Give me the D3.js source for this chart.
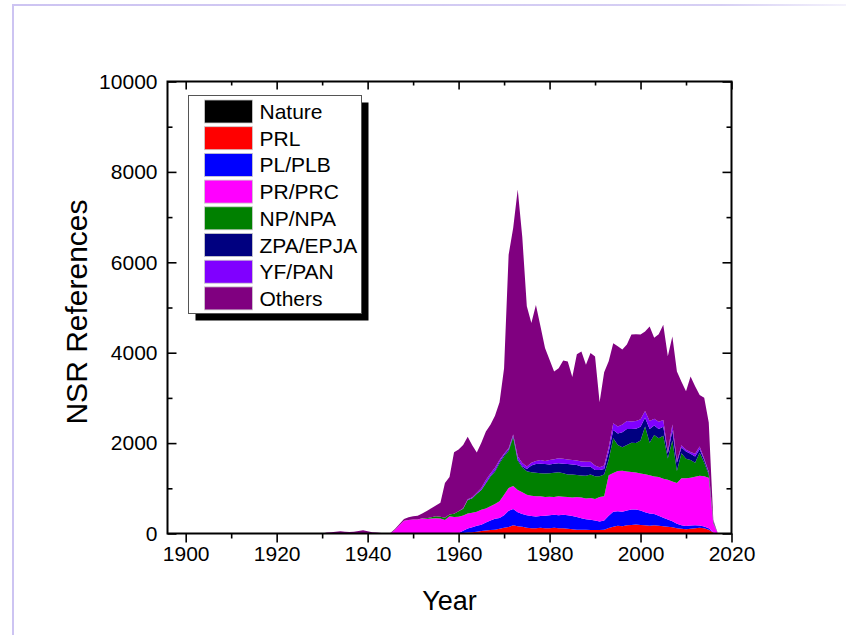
<!DOCTYPE html>
<html>
<head>
<meta charset="utf-8">
<script src="https://cdn.jsdelivr.net/npm/d3@7/dist/d3.min.js"></script>
<style>
  html, body { margin: 0; padding: 0; background: #ffffff; }
  svg { display: block; font-family: "Liberation Sans", Arial, sans-serif; }
</style>
</head>
<body>
<svg id="chart" width="846" height="635"></svg>
<script>
// Publication years, 1930–2017
const years = [
  1930,1931,1932,1933,1934,1935,1936,1937,1938,1939,
  1940,1941,1942,1943,1944,1945,1946,1947,1948,1949,
  1950,1951,1952,1953,1954,1955,1956,1957,1958,1959,
  1960,1961,1962,1963,1964,1965,1966,1967,1968,1969,
  1970,1971,1972,1973,1974,1975,1976,1977,1978,1979,
  1980,1981,1982,1983,1984,1985,1986,1987,1988,1989,
  1990,1991,1992,1993,1994,1995,1996,1997,1998,1999,
  2000,2001,2002,2003,2004,2005,2006,2007,2008,2009,
  2010,2011,2012,2013,2014,2015,2016,2017
];

// Journal groups, bottom of the stack first
const journals = ["Nature", "PRL", "PL/PLB", "PR/PRC", "NP/NPA", "ZPA/EPJA", "YF/PAN", "Others"];
const colors   = ["#000000", "#ff0000", "#0000ff", "#ff00ff", "#008000", "#000080", "#8000ff", "#800080"];

// References per year for each group (same order as years)
const nature = [
  0,0,0,0,0,0,0,0,0,0, 0,0,0,0,0,0,0,0,0,0, 0,0,0,0,0,0,0,0,0,0, 0,
  0,0,0,0,5,5,5,5,5,5,
  5,10,10,10,5,5,5,5,5,5,
  5,5,5,5,5,5,5,5,5,5,
  5,5,10,10,10,10,10,10,10,10,
  10,10,10,10,10,10,10,5,5,5,
  5,5,5,5,5,0,0
];
const prl = [
  0,0,0,0,0,0,0,0,0,0, 0,0,0,0,0,0,0,0,0,0, 0,0,0,0,0,0,0,0,10,15, 10,
  10,20,30,40,50,60,70,80,100,120,
  140,170,150,140,120,110,110,120,110,110,
  120,110,110,100,90,80,80,80,70,70,
  70,80,110,140,160,150,170,180,190,180,
  170,160,170,160,150,140,130,110,100,90,
  100,110,120,110,80,20,0
];
const plb = [
  0,0,0,0,0,0,0,0,0,0, 0,0,0,0,0,0,0,0,0,0, 0,0,0,0,0,0,0,0,0,0, 0,
  50,90,110,130,140,180,210,240,240,280,
  360,360,310,280,280,270,260,260,280,290,
  290,290,300,300,290,280,250,230,230,210,
  190,200,270,330,320,320,330,340,330,320,
  290,270,250,220,190,160,130,100,80,70,
  70,70,50,40,30,10,0
];
const prc = [
  0,0,0,0,0,0,0,0,0,0, 0,0,0,0,0,0,
  80,180,280,300,310,310,330,320,330,340,330,300,370,350,360,
  340,330,320,310,330,310,320,330,370,450,
  500,510,490,480,450,450,450,440,410,410,
  390,420,400,400,410,440,460,460,480,480,
  540,540,900,860,890,910,860,830,820,820,
  840,850,830,860,860,880,880,900,1040,1060,
  1060,1070,1100,1110,1120,200,0
];
const npa = [
  0,0,0,0,0,0,0,0,0,0, 0,0,0,0,0,0,
  0,0,0,0,0,0,10,20,30,40,40,50,40,70,120,
  150,300,320,400,440,550,650,710,840,850,
  820,1080,650,550,520,520,520,510,520,520,
  540,530,520,500,510,490,490,500,520,500,
  460,480,340,770,580,520,590,650,650,730,
  1060,720,920,860,950,470,910,270,550,430,
  390,310,510,300,70,30,0
];
const epja = [
  0,0,0,0,0,0,0,0,0,0, 0,0,0,0,0,0,0,0,0,0, 0,0,0,0,0,0,0,0,0,0, 0,
  0,0,0,0,0,20,20,30,30,30,
  30,30,30,30,50,150,190,210,210,190,
  200,200,210,230,220,220,200,200,170,140,
  140,120,180,180,250,330,350,300,320,300,
  190,300,210,200,200,110,220,180,130,160,
  140,140,80,60,40,10,0
];
const pan = [
  0,0,0,0,0,0,0,0,0,0, 0,0,0,0,0,0,0,0,0,0, 0,0,0,0,0,0,0,0,0,0, 0,
  10,20,20,20,40,60,50,60,40,30,
  30,30,70,70,60,60,70,80,70,100,
  100,110,110,100,100,100,110,110,110,100,
  60,80,100,150,160,170,180,170,170,170,
  150,180,150,160,150,40,130,40,50,40,
  40,60,60,30,20,5,0
];
const others = [
  0,20,30,40,50,40,35,40,55,70,50,30,20,10,5,10,
  20,30,40,60,70,80,100,160,200,240,310,770,830,1360,1370,
  1400,1380,1150,890,1000,1070,1080,1150,1280,1890,
  4280,4570,5900,5000,3540,3090,3450,2960,2500,2220,
  1940,1990,2170,2170,1840,2350,2430,2150,2410,2410,
  1440,2060,1900,1770,1770,1660,1690,1920,1920,1870,
  1760,2090,1790,1940,2110,2110,1950,1980,1400,1290,
  1670,1490,1140,1350,1090,25,0
];

const xTicks = [1900, 1920, 1940, 1960, 1980, 2000, 2020];
const xMinor = [1910, 1930, 1950, 1970, 1990, 2010];
const yTicks = [0, 2000, 4000, 6000, 8000, 10000];
const yMinor = [1000, 3000, 5000, 7000, 9000];

const seriesValues = [nature, prl, plb, prc, npa, epja, pan, others];
const table = years.map((yr, i) => {
  const row = { year: yr };
  journals.forEach((k, j) => { row[k] = seriesValues[j][i]; });
  return row;
});

const svg = d3.select("#chart");

// Page frame
const defs = svg.append("defs");
const grad = defs.append("linearGradient").attr("id", "frameFade")
  .attr("x1", "0%").attr("x2", "100%").attr("y1", "0%").attr("y2", "0%");
grad.append("stop").attr("offset", "0%").attr("stop-color", "#cdc4f2");
grad.append("stop").attr("offset", "85%").attr("stop-color", "#d6cff4");
grad.append("stop").attr("offset", "100%").attr("stop-color", "#f4f2fc");
svg.append("rect").attr("x", 12).attr("y", 4).attr("width", 834).attr("height", 2)
  .attr("fill", "url(#frameFade)");
svg.append("rect").attr("x", 12).attr("y", 4).attr("width", 2).attr("height", 631)
  .attr("fill", "#cdc4f2");

const plot = { left: 167.5, right: 731.5, top: 81.5, bottom: 533.5 };
const x = d3.scaleLinear().domain([1896, 2020]).range([plot.left, plot.right]);
const y = d3.scaleLinear().domain([0, 10000]).range([plot.bottom, plot.top]);

// Stacked areas
const stack = d3.stack().keys(journals).order(d3.stackOrderNone).offset(d3.stackOffsetNone);
const layers = stack(table);
const area = d3.area()
  .x(d => x(d.data.year))
  .y0(d => y(d[0]))
  .y1(d => y(d[1]));

svg.append("g").selectAll("path")
  .data(layers)
  .join("path")
  .attr("d", area)
  .attr("fill", (d, i) => colors[i]);

// Axes
const axisFont = 21;
function styleAxis(g) {
  g.selectAll(".domain").remove();
  g.selectAll(".tick line").attr("stroke", "#000").attr("stroke-width", 1.6);
  g.selectAll(".tick text").attr("fill", "#000").attr("font-size", axisFont)
    .attr("font-family", "Liberation Sans, Arial, sans-serif");
}

// bottom: ticks outward
svg.append("g").attr("transform", `translate(0,${plot.bottom})`)
  .call(d3.axisBottom(x).tickValues(xTicks).tickFormat(d3.format("d")).tickSize(9).tickPadding(4))
  .call(styleAxis);
svg.append("g").attr("transform", `translate(0,${plot.bottom})`)
  .call(d3.axisBottom(x).tickValues(xMinor).tickFormat("").tickSize(5))
  .call(styleAxis);
// top: ticks inward
svg.append("g").attr("transform", `translate(0,${plot.top})`)
  .call(d3.axisBottom(x).tickValues(xTicks).tickFormat("").tickSize(8))
  .call(styleAxis);
svg.append("g").attr("transform", `translate(0,${plot.top})`)
  .call(d3.axisBottom(x).tickValues(xMinor).tickFormat("").tickSize(4))
  .call(styleAxis);
// left: ticks inward, labels outside
svg.append("g").attr("transform", `translate(${plot.left},0)`)
  .call(d3.axisRight(y).tickValues(yTicks).tickFormat("").tickSize(9))
  .call(styleAxis);
svg.append("g").attr("transform", `translate(${plot.left},0)`)
  .call(d3.axisRight(y).tickValues(yMinor).tickFormat("").tickSize(5))
  .call(styleAxis);
svg.append("g").attr("transform", `translate(${plot.left},0)`)
  .call(d3.axisLeft(y).tickValues(yTicks).tickFormat(d3.format("d")).tickSize(0).tickPadding(10))
  .call(styleAxis);
// right: ticks inward
svg.append("g").attr("transform", `translate(${plot.right},0)`)
  .call(d3.axisLeft(y).tickValues(yTicks).tickFormat("").tickSize(9))
  .call(styleAxis);
svg.append("g").attr("transform", `translate(${plot.right},0)`)
  .call(d3.axisLeft(y).tickValues(yMinor).tickFormat("").tickSize(5))
  .call(styleAxis);

// Frame
svg.append("rect")
  .attr("x", plot.left).attr("y", plot.top)
  .attr("width", plot.right - plot.left).attr("height", plot.bottom - plot.top)
  .attr("fill", "none").attr("stroke", "#000").attr("stroke-width", 2);

// Axis titles
svg.append("text").attr("x", (plot.left + plot.right) / 2).attr("y", 610)
  .attr("text-anchor", "middle").attr("font-size", 27).text("Year");
svg.append("text")
  .attr("transform", "translate(87,312) rotate(-90)")
  .attr("text-anchor", "middle").attr("font-size", 30).text("NSR References");

// Legend
const lg = { x: 188.5, y: 95.5, w: 173, h: 218, pitch: 26.7 };
svg.append("rect").attr("x", lg.x + 7).attr("y", lg.y + 7)
  .attr("width", lg.w).attr("height", lg.h).attr("fill", "#000");
svg.append("rect").attr("x", lg.x).attr("y", lg.y)
  .attr("width", lg.w).attr("height", lg.h).attr("fill", "#fff")
  .attr("stroke", "#555").attr("stroke-width", 1);
const items = svg.append("g").selectAll("g")
  .data(journals)
  .join("g")
  .attr("transform", (d, i) => `translate(${lg.x + 16},${lg.y + 16 + i * lg.pitch})`);
items.append("rect")
  .attr("x", 0).attr("y", -11.5).attr("width", 48).attr("height", 23)
  .attr("fill", (d, i) => colors[i])
  .attr("stroke", "#ccc").attr("stroke-width", 0.8);
items.append("text")
  .attr("x", 55).attr("y", 0).attr("dy", "0.36em")
  .attr("font-size", 21).text(d => d);
</script>
</body>
</html>
